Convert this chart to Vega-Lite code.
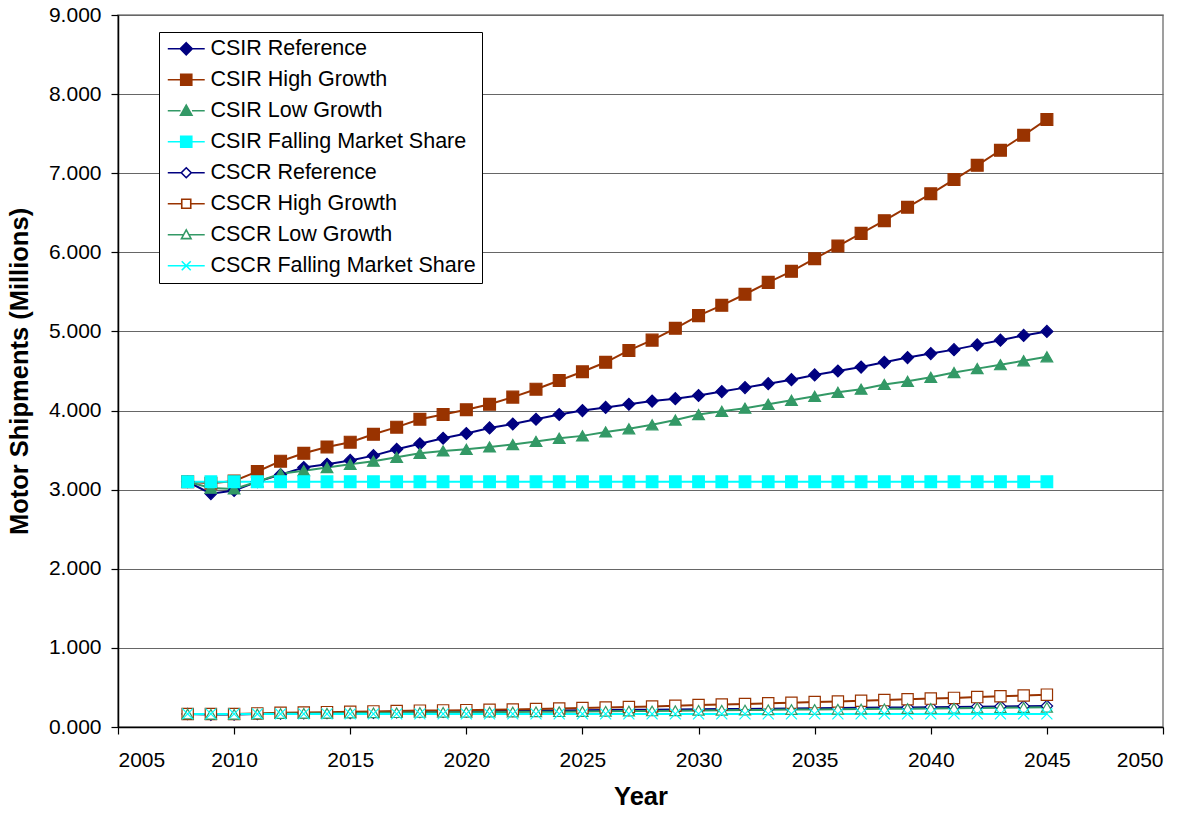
{
  "$schema": "https://vega.github.io/schema/vega-lite/v6.json",
  "width": 1045,
  "height": 712,
  "autosize": "none",
  "padding": {"left": 118, "top": 15, "right": 36, "bottom": 88},
  "background": "white",
  "data": {
    "values": [
      {"year": 2008, "CSIR Reference": 3.10, "CSIR High Growth": 3.10, "CSIR Low Growth": 3.10, "CSIR Falling Market Share": 3.10, "CSCR Reference": 0.165, "CSCR High Growth": 0.165, "CSCR Low Growth": 0.165, "CSCR Falling Market Share": 0.165},
      {"year": 2009, "CSIR Reference": 2.95, "CSIR High Growth": 3.08, "CSIR Low Growth": 3.02, "CSIR Falling Market Share": 3.10, "CSCR Reference": 0.157, "CSCR High Growth": 0.164, "CSCR Low Growth": 0.161, "CSCR Falling Market Share": 0.165},
      {"year": 2010, "CSIR Reference": 2.99, "CSIR High Growth": 3.11, "CSIR Low Growth": 3.01, "CSIR Falling Market Share": 3.10, "CSCR Reference": 0.159, "CSCR High Growth": 0.165, "CSCR Low Growth": 0.160, "CSCR Falling Market Share": 0.165},
      {"year": 2011, "CSIR Reference": 3.10, "CSIR High Growth": 3.23, "CSIR Low Growth": 3.10, "CSIR Falling Market Share": 3.10, "CSCR Reference": 0.165, "CSCR High Growth": 0.172, "CSCR Low Growth": 0.165, "CSCR Falling Market Share": 0.165},
      {"year": 2012, "CSIR Reference": 3.19, "CSIR High Growth": 3.36, "CSIR Low Growth": 3.20, "CSIR Falling Market Share": 3.10, "CSCR Reference": 0.170, "CSCR High Growth": 0.179, "CSCR Low Growth": 0.170, "CSCR Falling Market Share": 0.165},
      {"year": 2013, "CSIR Reference": 3.28, "CSIR High Growth": 3.46, "CSIR Low Growth": 3.24, "CSIR Falling Market Share": 3.10, "CSCR Reference": 0.174, "CSCR High Growth": 0.184, "CSCR Low Growth": 0.172, "CSCR Falling Market Share": 0.165},
      {"year": 2014, "CSIR Reference": 3.32, "CSIR High Growth": 3.54, "CSIR Low Growth": 3.28, "CSIR Falling Market Share": 3.10, "CSCR Reference": 0.177, "CSCR High Growth": 0.188, "CSCR Low Growth": 0.174, "CSCR Falling Market Share": 0.165},
      {"year": 2015, "CSIR Reference": 3.37, "CSIR High Growth": 3.60, "CSIR Low Growth": 3.32, "CSIR Falling Market Share": 3.10, "CSCR Reference": 0.179, "CSCR High Growth": 0.192, "CSCR Low Growth": 0.177, "CSCR Falling Market Share": 0.165},
      {"year": 2016, "CSIR Reference": 3.43, "CSIR High Growth": 3.70, "CSIR Low Growth": 3.36, "CSIR Falling Market Share": 3.10, "CSCR Reference": 0.182, "CSCR High Growth": 0.197, "CSCR Low Growth": 0.179, "CSCR Falling Market Share": 0.165},
      {"year": 2017, "CSIR Reference": 3.51, "CSIR High Growth": 3.79, "CSIR Low Growth": 3.41, "CSIR Falling Market Share": 3.10, "CSCR Reference": 0.187, "CSCR High Growth": 0.202, "CSCR Low Growth": 0.181, "CSCR Falling Market Share": 0.165},
      {"year": 2018, "CSIR Reference": 3.58, "CSIR High Growth": 3.89, "CSIR Low Growth": 3.46, "CSIR Falling Market Share": 3.10, "CSCR Reference": 0.190, "CSCR High Growth": 0.207, "CSCR Low Growth": 0.184, "CSCR Falling Market Share": 0.165},
      {"year": 2019, "CSIR Reference": 3.65, "CSIR High Growth": 3.95, "CSIR Low Growth": 3.49, "CSIR Falling Market Share": 3.10, "CSCR Reference": 0.194, "CSCR High Growth": 0.210, "CSCR Low Growth": 0.186, "CSCR Falling Market Share": 0.165},
      {"year": 2020, "CSIR Reference": 3.71, "CSIR High Growth": 4.01, "CSIR Low Growth": 3.51, "CSIR Falling Market Share": 3.10, "CSCR Reference": 0.197, "CSCR High Growth": 0.213, "CSCR Low Growth": 0.187, "CSCR Falling Market Share": 0.165},
      {"year": 2021, "CSIR Reference": 3.78, "CSIR High Growth": 4.08, "CSIR Low Growth": 3.54, "CSIR Falling Market Share": 3.10, "CSCR Reference": 0.201, "CSCR High Growth": 0.217, "CSCR Low Growth": 0.188, "CSCR Falling Market Share": 0.165},
      {"year": 2022, "CSIR Reference": 3.83, "CSIR High Growth": 4.17, "CSIR Low Growth": 3.57, "CSIR Falling Market Share": 3.10, "CSCR Reference": 0.204, "CSCR High Growth": 0.222, "CSCR Low Growth": 0.190, "CSCR Falling Market Share": 0.165},
      {"year": 2023, "CSIR Reference": 3.89, "CSIR High Growth": 4.27, "CSIR Low Growth": 3.61, "CSIR Falling Market Share": 3.10, "CSCR Reference": 0.207, "CSCR High Growth": 0.227, "CSCR Low Growth": 0.192, "CSCR Falling Market Share": 0.165},
      {"year": 2024, "CSIR Reference": 3.95, "CSIR High Growth": 4.38, "CSIR Low Growth": 3.65, "CSIR Falling Market Share": 3.10, "CSCR Reference": 0.210, "CSCR High Growth": 0.233, "CSCR Low Growth": 0.194, "CSCR Falling Market Share": 0.165},
      {"year": 2025, "CSIR Reference": 4.00, "CSIR High Growth": 4.49, "CSIR Low Growth": 3.68, "CSIR Falling Market Share": 3.10, "CSCR Reference": 0.213, "CSCR High Growth": 0.239, "CSCR Low Growth": 0.196, "CSCR Falling Market Share": 0.165},
      {"year": 2026, "CSIR Reference": 4.04, "CSIR High Growth": 4.61, "CSIR Low Growth": 3.73, "CSIR Falling Market Share": 3.10, "CSCR Reference": 0.215, "CSCR High Growth": 0.245, "CSCR Low Growth": 0.198, "CSCR Falling Market Share": 0.165},
      {"year": 2027, "CSIR Reference": 4.08, "CSIR High Growth": 4.76, "CSIR Low Growth": 3.77, "CSIR Falling Market Share": 3.10, "CSCR Reference": 0.217, "CSCR High Growth": 0.253, "CSCR Low Growth": 0.201, "CSCR Falling Market Share": 0.165},
      {"year": 2028, "CSIR Reference": 4.12, "CSIR High Growth": 4.89, "CSIR Low Growth": 3.82, "CSIR Falling Market Share": 3.10, "CSCR Reference": 0.219, "CSCR High Growth": 0.260, "CSCR Low Growth": 0.203, "CSCR Falling Market Share": 0.165},
      {"year": 2029, "CSIR Reference": 4.15, "CSIR High Growth": 5.04, "CSIR Low Growth": 3.88, "CSIR Falling Market Share": 3.10, "CSCR Reference": 0.221, "CSCR High Growth": 0.268, "CSCR Low Growth": 0.206, "CSCR Falling Market Share": 0.165},
      {"year": 2030, "CSIR Reference": 4.19, "CSIR High Growth": 5.20, "CSIR Low Growth": 3.95, "CSIR Falling Market Share": 3.10, "CSCR Reference": 0.223, "CSCR High Growth": 0.277, "CSCR Low Growth": 0.210, "CSCR Falling Market Share": 0.165},
      {"year": 2031, "CSIR Reference": 4.24, "CSIR High Growth": 5.33, "CSIR Low Growth": 3.99, "CSIR Falling Market Share": 3.10, "CSCR Reference": 0.226, "CSCR High Growth": 0.284, "CSCR Low Growth": 0.212, "CSCR Falling Market Share": 0.165},
      {"year": 2032, "CSIR Reference": 4.29, "CSIR High Growth": 5.47, "CSIR Low Growth": 4.03, "CSIR Falling Market Share": 3.10, "CSCR Reference": 0.228, "CSCR High Growth": 0.291, "CSCR Low Growth": 0.214, "CSCR Falling Market Share": 0.165},
      {"year": 2033, "CSIR Reference": 4.34, "CSIR High Growth": 5.62, "CSIR Low Growth": 4.08, "CSIR Falling Market Share": 3.10, "CSCR Reference": 0.231, "CSCR High Growth": 0.299, "CSCR Low Growth": 0.217, "CSCR Falling Market Share": 0.165},
      {"year": 2034, "CSIR Reference": 4.39, "CSIR High Growth": 5.76, "CSIR Low Growth": 4.13, "CSIR Falling Market Share": 3.10, "CSCR Reference": 0.234, "CSCR High Growth": 0.306, "CSCR Low Growth": 0.220, "CSCR Falling Market Share": 0.165},
      {"year": 2035, "CSIR Reference": 4.45, "CSIR High Growth": 5.92, "CSIR Low Growth": 4.18, "CSIR Falling Market Share": 3.10, "CSCR Reference": 0.237, "CSCR High Growth": 0.315, "CSCR Low Growth": 0.222, "CSCR Falling Market Share": 0.165},
      {"year": 2036, "CSIR Reference": 4.50, "CSIR High Growth": 6.08, "CSIR Low Growth": 4.23, "CSIR Falling Market Share": 3.10, "CSCR Reference": 0.239, "CSCR High Growth": 0.323, "CSCR Low Growth": 0.225, "CSCR Falling Market Share": 0.165},
      {"year": 2037, "CSIR Reference": 4.55, "CSIR High Growth": 6.24, "CSIR Low Growth": 4.27, "CSIR Falling Market Share": 3.10, "CSCR Reference": 0.242, "CSCR High Growth": 0.332, "CSCR Low Growth": 0.227, "CSCR Falling Market Share": 0.165},
      {"year": 2038, "CSIR Reference": 4.61, "CSIR High Growth": 6.40, "CSIR Low Growth": 4.33, "CSIR Falling Market Share": 3.10, "CSCR Reference": 0.245, "CSCR High Growth": 0.340, "CSCR Low Growth": 0.230, "CSCR Falling Market Share": 0.165},
      {"year": 2039, "CSIR Reference": 4.67, "CSIR High Growth": 6.57, "CSIR Low Growth": 4.37, "CSIR Falling Market Share": 3.10, "CSCR Reference": 0.248, "CSCR High Growth": 0.350, "CSCR Low Growth": 0.232, "CSCR Falling Market Share": 0.165},
      {"year": 2040, "CSIR Reference": 4.72, "CSIR High Growth": 6.74, "CSIR Low Growth": 4.42, "CSIR Falling Market Share": 3.10, "CSCR Reference": 0.251, "CSCR High Growth": 0.359, "CSCR Low Growth": 0.235, "CSCR Falling Market Share": 0.165},
      {"year": 2041, "CSIR Reference": 4.77, "CSIR High Growth": 6.92, "CSIR Low Growth": 4.48, "CSIR Falling Market Share": 3.10, "CSCR Reference": 0.254, "CSCR High Growth": 0.368, "CSCR Low Growth": 0.238, "CSCR Falling Market Share": 0.165},
      {"year": 2042, "CSIR Reference": 4.83, "CSIR High Growth": 7.10, "CSIR Low Growth": 4.53, "CSIR Falling Market Share": 3.10, "CSCR Reference": 0.257, "CSCR High Growth": 0.378, "CSCR Low Growth": 0.241, "CSCR Falling Market Share": 0.165},
      {"year": 2043, "CSIR Reference": 4.89, "CSIR High Growth": 7.29, "CSIR Low Growth": 4.58, "CSIR Falling Market Share": 3.10, "CSCR Reference": 0.260, "CSCR High Growth": 0.388, "CSCR Low Growth": 0.244, "CSCR Falling Market Share": 0.165},
      {"year": 2044, "CSIR Reference": 4.95, "CSIR High Growth": 7.48, "CSIR Low Growth": 4.63, "CSIR Falling Market Share": 3.10, "CSCR Reference": 0.263, "CSCR High Growth": 0.398, "CSCR Low Growth": 0.246, "CSCR Falling Market Share": 0.165},
      {"year": 2045, "CSIR Reference": 5.00, "CSIR High Growth": 7.68, "CSIR Low Growth": 4.68, "CSIR Falling Market Share": 3.10, "CSCR Reference": 0.266, "CSCR High Growth": 0.409, "CSCR Low Growth": 0.249, "CSCR Falling Market Share": 0.165}
    ]
  },
  "transform": [
    {
      "fold": ["CSIR Reference", "CSIR High Growth", "CSIR Low Growth", "CSIR Falling Market Share", "CSCR Reference", "CSCR High Growth", "CSCR Low Growth", "CSCR Falling Market Share"],
      "as": ["series", "shipments"]
    }
  ],
  "encoding": {
    "x": {
      "field": "year",
      "type": "quantitative",
      "scale": {"domain": [2005, 2050], "nice": false, "zero": false},
      "axis": {
        "title": "Year",
        "values": [2005, 2010, 2015, 2020, 2025, 2030, 2035, 2040, 2045, 2050],
        "format": "d",
        "grid": false,
        "labelPadding": 15,
        "titlePadding": 14
      }
    },
    "y": {
      "field": "shipments",
      "type": "quantitative",
      "scale": {"domain": [0, 9], "nice": false},
      "axis": {
        "title": "Motor Shipments (Millions)",
        "values": [0, 1, 2, 3, 4, 5, 6, 7, 8, 9],
        "format": ".3f",
        "grid": true,
        "gridColor": "#666666",
        "gridWidth": 1,
        "labelPadding": 10,
        "titlePadding": 16
      }
    }
  },
  "layer": [
    {
      "mark": {"type": "line", "interpolate": "linear"},
      "encoding": {
        "stroke": {
          "field": "series",
          "type": "nominal",
          "scale": {
            "domain": ["CSIR Reference", "CSIR High Growth", "CSIR Low Growth", "CSIR Falling Market Share", "CSCR Reference", "CSCR High Growth", "CSCR Low Growth", "CSCR Falling Market Share"],
            "range": ["#000080", "#993300", "#339966", "#00FFFF", "#000080", "#993300", "#339966", "#00FFFF"]
          },
          "legend": null
        },
        "strokeWidth": {
          "field": "series",
          "type": "nominal",
          "scale": {
            "domain": ["CSIR Reference", "CSIR High Growth", "CSIR Low Growth", "CSIR Falling Market Share", "CSCR Reference", "CSCR High Growth", "CSCR Low Growth", "CSCR Falling Market Share"],
            "range": [2, 2, 1, 2.5, 1.5, 1, 1, 2]
          },
          "legend": null
        }
      }
    },
    {
      "mark": {"type": "point", "opacity": 1, "strokeWidth": 1.2},
      "encoding": {
        "shape": {
          "field": "series",
          "type": "nominal",
          "scale": {
            "domain": ["CSIR Reference", "CSIR High Growth", "CSIR Low Growth", "CSIR Falling Market Share", "CSCR Reference", "CSCR High Growth", "CSCR Low Growth", "CSCR Falling Market Share"],
            "range": ["diamond", "square", "triangle-up", "square", "diamond", "square", "triangle-up", "M-1,-1L1,1M-1,1L1,-1"]
          },
          "legend": null
        },
        "fill": {
          "field": "series",
          "type": "nominal",
          "scale": {
            "domain": ["CSIR Reference", "CSIR High Growth", "CSIR Low Growth", "CSIR Falling Market Share", "CSCR Reference", "CSCR High Growth", "CSCR Low Growth", "CSCR Falling Market Share"],
            "range": ["#000080", "#993300", "#339966", "#00FFFF", "#FFFFFF", "#FFFFFF", "#FFFFFF", "#FFFFFF"]
          },
          "legend": null
        },
        "stroke": {"field": "series", "type": "nominal", "legend": null},
        "size": {
          "field": "series",
          "type": "nominal",
          "scale": {
            "domain": ["CSIR Reference", "CSIR High Growth", "CSIR Low Growth", "CSIR Falling Market Share", "CSCR Reference", "CSCR High Growth", "CSCR Low Growth", "CSCR Falling Market Share"],
            "range": [144, 121, 121, 121, 100, 100, 81, 81]
          },
          "legend": null
        }
      }
    },
    {
      "transform": [{"filter": "false"}],
      "mark": {"type": "point", "opacity": 1},
      "encoding": {
        "shape": {
          "field": "series",
          "type": "nominal",
          "scale": {
            "domain": ["CSIR Reference", "CSIR High Growth", "CSIR Low Growth", "CSIR Falling Market Share", "CSCR Reference", "CSCR High Growth", "CSCR Low Growth", "CSCR Falling Market Share"],
            "range": [
              "M-1.33,0L0.75,0M2.75,0L4.83,0M1.75,-1L2.75,0L1.75,1L0.75,0Z",
              "M-1.33,0L0.83,0M2.67,0L4.83,0M0.83,-0.92L2.67,-0.92L2.67,0.92L0.83,0.92Z",
              "M-1.33,0L0.8,0M2.7,0L4.83,0M1.75,-0.95L2.7,0.75L0.8,0.75Z",
              "M-1.33,0L0.83,0M2.67,0L4.83,0M0.83,-0.92L2.67,-0.92L2.67,0.92L0.83,0.92Z",
              "M-1.33,0L0.92,0M2.58,0L4.83,0M1.75,-0.83L2.58,0L1.75,0.83L0.92,0Z",
              "M-1.33,0L1,0M2.5,0L4.83,0M1,-0.75L2.5,-0.75L2.5,0.75L1,0.75Z",
              "M-1.33,0L1.31,0M2.19,0L4.83,0M1.75,-0.8L2.55,0.65L0.95,0.65Z",
              "M-1.33,0L4.83,0M1,-0.75L2.5,0.75M1,0.75L2.5,-0.75"
            ]
          },
          "legend": {
            "orient": "none",
            "legendX": 41,
            "legendY": 17,
            "labelExpr": "datum.label + '    '"
          }
        },
        "fill": {"field": "series", "type": "nominal"},
        "stroke": {"field": "series", "type": "nominal"}
      }
    }
  ],
  "resolve": {
    "scale": {"shape": "independent"},
    "legend": {"shape": "independent", "fill": "independent", "stroke": "independent", "size": "independent", "strokeWidth": "independent"}
  },
  "config": {
    "font": "Liberation Sans",
    "view": {"stroke": "#808080", "strokeWidth": 1.5},
    "axis": {
      "labelFont": "Liberation Sans",
      "labelFontSize": 21,
      "labelColor": "black",
      "titleFont": "Liberation Sans",
      "titleFontSize": 25.5,
      "titleFontWeight": "bold",
      "titleColor": "black",
      "domainColor": "black",
      "domainWidth": 1.5,
      "tickColor": "black",
      "tickWidth": 1.2,
      "tickSize": 7
    },
    "legend": {
      "title": null,
      "orient": "none",
      "legendX": 41,
      "legendY": 17,
      "strokeColor": "black",
      "fillColor": "white",
      "padding": 6,
      "rowPadding": 8,
      "symbolSize": 144,
      "symbolStrokeWidth": 1.6,
      "labelFont": "Liberation Sans",
      "labelFontSize": 21.5,
      "labelColor": "black",
      "labelOffset": 24,
      "labelLimit": 400
    }
  }
}
